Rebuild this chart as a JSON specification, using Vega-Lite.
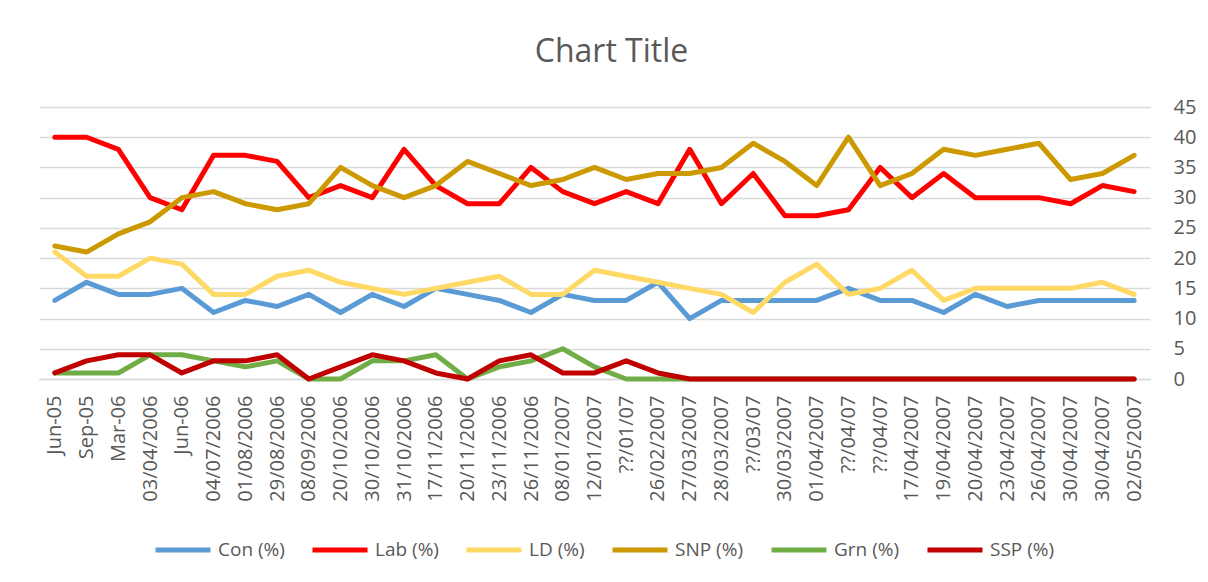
{
  "$schema": "https://vega.github.io/schema/vega-lite/v6.json",
  "autosize": {"type": "none"},
  "width": 1111,
  "height": 272,
  "padding": {"left": 39, "top": 107, "right": 58, "bottom": 203},
  "background": "white",
  "title": {
    "text": "Chart Title",
    "font": "Open Sans",
    "fontSize": 32,
    "fontWeight": "normal",
    "color": "#595959",
    "anchor": "middle",
    "frame": "group",
    "baseline": "alphabetic",
    "dx": 17,
    "offset": 3
  },
  "data": {
    "values": [
      {"i": 0, "Con (%)": 13, "Lab (%)": 40, "LD (%)": 21, "SNP (%)": 22, "Grn (%)": 1, "SSP (%)": 1},
      {"i": 1, "Con (%)": 16, "Lab (%)": 40, "LD (%)": 17, "SNP (%)": 21, "Grn (%)": 1, "SSP (%)": 3},
      {"i": 2, "Con (%)": 14, "Lab (%)": 38, "LD (%)": 17, "SNP (%)": 24, "Grn (%)": 1, "SSP (%)": 4},
      {"i": 3, "Con (%)": 14, "Lab (%)": 30, "LD (%)": 20, "SNP (%)": 26, "Grn (%)": 4, "SSP (%)": 4},
      {"i": 4, "Con (%)": 15, "Lab (%)": 28, "LD (%)": 19, "SNP (%)": 30, "Grn (%)": 4, "SSP (%)": 1},
      {"i": 5, "Con (%)": 11, "Lab (%)": 37, "LD (%)": 14, "SNP (%)": 31, "Grn (%)": 3, "SSP (%)": 3},
      {"i": 6, "Con (%)": 13, "Lab (%)": 37, "LD (%)": 14, "SNP (%)": 29, "Grn (%)": 2, "SSP (%)": 3},
      {"i": 7, "Con (%)": 12, "Lab (%)": 36, "LD (%)": 17, "SNP (%)": 28, "Grn (%)": 3, "SSP (%)": 4},
      {"i": 8, "Con (%)": 14, "Lab (%)": 30, "LD (%)": 18, "SNP (%)": 29, "Grn (%)": 0, "SSP (%)": 0},
      {"i": 9, "Con (%)": 11, "Lab (%)": 32, "LD (%)": 16, "SNP (%)": 35, "Grn (%)": 0, "SSP (%)": 2},
      {"i": 10, "Con (%)": 14, "Lab (%)": 30, "LD (%)": 15, "SNP (%)": 32, "Grn (%)": 3, "SSP (%)": 4},
      {"i": 11, "Con (%)": 12, "Lab (%)": 38, "LD (%)": 14, "SNP (%)": 30, "Grn (%)": 3, "SSP (%)": 3},
      {"i": 12, "Con (%)": 15, "Lab (%)": 32, "LD (%)": 15, "SNP (%)": 32, "Grn (%)": 4, "SSP (%)": 1},
      {"i": 13, "Con (%)": 14, "Lab (%)": 29, "LD (%)": 16, "SNP (%)": 36, "Grn (%)": 0, "SSP (%)": 0},
      {"i": 14, "Con (%)": 13, "Lab (%)": 29, "LD (%)": 17, "SNP (%)": 34, "Grn (%)": 2, "SSP (%)": 3},
      {"i": 15, "Con (%)": 11, "Lab (%)": 35, "LD (%)": 14, "SNP (%)": 32, "Grn (%)": 3, "SSP (%)": 4},
      {"i": 16, "Con (%)": 14, "Lab (%)": 31, "LD (%)": 14, "SNP (%)": 33, "Grn (%)": 5, "SSP (%)": 1},
      {"i": 17, "Con (%)": 13, "Lab (%)": 29, "LD (%)": 18, "SNP (%)": 35, "Grn (%)": 2, "SSP (%)": 1},
      {"i": 18, "Con (%)": 13, "Lab (%)": 31, "LD (%)": 17, "SNP (%)": 33, "Grn (%)": 0, "SSP (%)": 3},
      {"i": 19, "Con (%)": 16, "Lab (%)": 29, "LD (%)": 16, "SNP (%)": 34, "Grn (%)": 0, "SSP (%)": 1},
      {"i": 20, "Con (%)": 10, "Lab (%)": 38, "LD (%)": 15, "SNP (%)": 34, "Grn (%)": 0, "SSP (%)": 0},
      {"i": 21, "Con (%)": 13, "Lab (%)": 29, "LD (%)": 14, "SNP (%)": 35, "Grn (%)": 0, "SSP (%)": 0},
      {"i": 22, "Con (%)": 13, "Lab (%)": 34, "LD (%)": 11, "SNP (%)": 39, "Grn (%)": 0, "SSP (%)": 0},
      {"i": 23, "Con (%)": 13, "Lab (%)": 27, "LD (%)": 16, "SNP (%)": 36, "Grn (%)": 0, "SSP (%)": 0},
      {"i": 24, "Con (%)": 13, "Lab (%)": 27, "LD (%)": 19, "SNP (%)": 32, "Grn (%)": 0, "SSP (%)": 0},
      {"i": 25, "Con (%)": 15, "Lab (%)": 28, "LD (%)": 14, "SNP (%)": 40, "Grn (%)": 0, "SSP (%)": 0},
      {"i": 26, "Con (%)": 13, "Lab (%)": 35, "LD (%)": 15, "SNP (%)": 32, "Grn (%)": 0, "SSP (%)": 0},
      {"i": 27, "Con (%)": 13, "Lab (%)": 30, "LD (%)": 18, "SNP (%)": 34, "Grn (%)": 0, "SSP (%)": 0},
      {"i": 28, "Con (%)": 11, "Lab (%)": 34, "LD (%)": 13, "SNP (%)": 38, "Grn (%)": 0, "SSP (%)": 0},
      {"i": 29, "Con (%)": 14, "Lab (%)": 30, "LD (%)": 15, "SNP (%)": 37, "Grn (%)": 0, "SSP (%)": 0},
      {"i": 30, "Con (%)": 12, "Lab (%)": 30, "LD (%)": 15, "SNP (%)": 38, "Grn (%)": 0, "SSP (%)": 0},
      {"i": 31, "Con (%)": 13, "Lab (%)": 30, "LD (%)": 15, "SNP (%)": 39, "Grn (%)": 0, "SSP (%)": 0},
      {"i": 32, "Con (%)": 13, "Lab (%)": 29, "LD (%)": 15, "SNP (%)": 33, "Grn (%)": 0, "SSP (%)": 0},
      {"i": 33, "Con (%)": 13, "Lab (%)": 32, "LD (%)": 16, "SNP (%)": 34, "Grn (%)": 0, "SSP (%)": 0},
      {"i": 34, "Con (%)": 13, "Lab (%)": 31, "LD (%)": 14, "SNP (%)": 37, "Grn (%)": 0, "SSP (%)": 0}
    ]
  },
  "transform": [
    {"fold": ["Con (%)", "Lab (%)", "LD (%)", "SNP (%)", "Grn (%)", "SSP (%)"], "as": ["party", "value"]}
  ],
  "mark": {"type": "line", "strokeWidth": 5, "strokeCap": "round", "strokeJoin": "round"},
  "encoding": {
    "x": {
      "field": "i",
      "type": "ordinal",
      "sort": "ascending",
      "scale": {"type": "point", "padding": 0.5},
      "axis": {
        "title": null,
        "labelAngle": -90,
        "labelAlign": "right",
        "labelBaseline": "middle",
        "labelPadding": 16,
        "labelFont": "Open Sans",
        "labelFontSize": 20,
        "labelColor": "#595959",
        "labelOverlap": false,
        "labelExpr": "['Jun-05','Sep-05','Mar-06','03/04/2006','Jun-06','04/07/2006','01/08/2006','29/08/2006','08/09/2006','20/10/2006','30/10/2006','31/10/2006','17/11/2006','20/11/2006','23/11/2006','26/11/2006','08/01/2007','12/01/2007','??/01/07','26/02/2007','27/03/2007','28/03/2007','??/03/07','30/03/2007','01/04/2007','??/04/07','??/04/07','17/04/2007','19/04/2007','20/04/2007','23/04/2007','26/04/2007','30/04/2007','30/04/2007','02/05/2007'][datum.value]",
        "ticks": false,
        "domain": true,
        "domainColor": "#D9D9D9",
        "domainWidth": 1.5,
        "grid": false
      }
    },
    "y": {
      "field": "value",
      "type": "quantitative",
      "scale": {"domain": [0, 45], "nice": false},
      "axis": {
        "title": null,
        "orient": "right",
        "values": [0, 5, 10, 15, 20, 25, 30, 35, 40, 45],
        "labelPadding": 23,
        "labelFont": "Open Sans",
        "labelFontSize": 20,
        "labelColor": "#595959",
        "ticks": false,
        "domain": false,
        "grid": true,
        "gridColor": "#D9D9D9",
        "gridWidth": 1.5
      }
    },
    "color": {
      "field": "party",
      "type": "nominal",
      "scale": {
        "domain": ["Con (%)", "Lab (%)", "LD (%)", "SNP (%)", "Grn (%)", "SSP (%)"],
        "range": ["#5B9BD5", "#FF0000", "#FFD966", "#CC9900", "#70AD47", "#C00000"]
      },
      "legend": {
        "title": null,
        "orient": "none",
        "direction": "horizontal",
        "legendX": 114,
        "legendY": 413,
        "symbolType": "stroke",
        "symbolSize": 3025,
        "symbolStrokeWidth": 5,
        "labelFont": "Open Sans",
        "labelFontSize": 19,
        "labelColor": "#595959",
        "labelOffset": 5,
        "columnPadding": 17,
        "labelLimit": 300,
        "padding": 0
      }
    }
  },
  "config": {
    "view": {"stroke": null}
  }
}
